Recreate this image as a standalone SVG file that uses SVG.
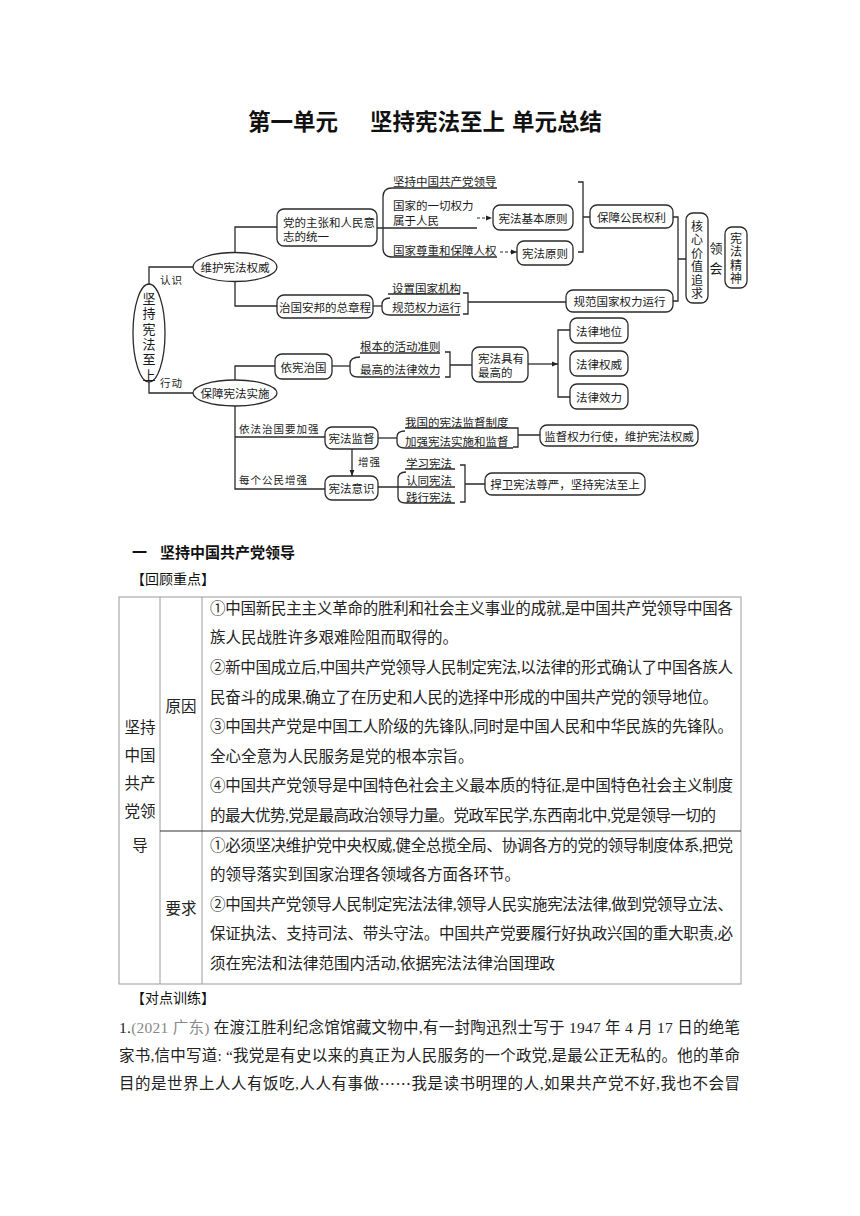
<svg xmlns="http://www.w3.org/2000/svg" width="860" height="1216" viewBox="0 0 860 1216">
<defs>
<style>
.ln{fill:none;stroke:#2a2a2a;stroke-width:1.3}
.ds{fill:none;stroke:#2a2a2a;stroke-width:1.2;stroke-dasharray:3 2}
.bx{fill:#fff;stroke:#2a2a2a;stroke-width:1.3}
.t{font-family:"Noto Sans CJK SC",sans-serif;font-size:11.5px;fill:#1a1a1a;dominant-baseline:central}
.c{text-anchor:middle}
.lb{font-size:10.5px;letter-spacing:1px}
.vt{font-family:"Noto Sans CJK SC",sans-serif;fill:#1a1a1a;writing-mode:vertical-rl;text-anchor:middle}
.b{font-family:"Liberation Serif","Noto Sans CJK SC",serif;font-size:15.5px;fill:#222;dominant-baseline:central}
.h{font-family:"Noto Sans CJK SC",sans-serif;fill:#111;dominant-baseline:central}
.tb{fill:none;stroke:#9a9a9a;stroke-width:1}
</style>
<marker id="ah" viewBox="0 0 10 10" refX="10" refY="5" markerWidth="6" markerHeight="6" orient="auto" markerUnits="userSpaceOnUse"><path d="M0 1L10 5L0 9z" fill="#222"/></marker>
</defs>
<rect width="860" height="1216" fill="#fff"/>

<text class="h" x="248" y="120" font-size="22.5" font-weight="bold">第一单元</text>
<text class="h" x="370" y="120" font-size="22.5" font-weight="bold">坚持宪法至上</text>
<text class="h" x="512" y="120" font-size="22.5" font-weight="bold">单元总结</text>

<g id="connectors">
<path class="ln" d="M149 284V267H193"/>
<path class="ln" d="M149 382V393H193"/>
<path class="ln" d="M235 252.5V227H277"/>
<path class="ln" d="M235 281.5V306H277"/>
<path class="ln" d="M235 380V366H275"/>
<path class="ln" d="M235 406V489H325"/>
<path class="ln" d="M235 437H325"/>
<path class="ln" d="M352 449V476" marker-end="url(#ah)"/>
<path class="ln" d="M377 228H477"/>
<path class="ln" d="M497 188H392Q383 188 383 197V248Q383 257 392 257H497"/>
<path class="ds" d="M477 218H492" marker-end="url(#ah)"/>
<path class="ds" d="M500 252H517" marker-end="url(#ah)"/>
<path class="ln" d="M578 182H583V252H578M583 217H590"/>
<path class="ln" d="M673 217H678V301H673M678 259H686"/>
<path class="ln" d="M373 306H382"/>
<path class="ln" d="M388 294H460"/>
<path class="ln" d="M390 298Q382 298 382 305V309Q382 315 390 315H460"/>
<path class="ln" d="M463 293H468V314H463M468 302H566"/>
<path class="ln" d="M332 366H350"/>
<path class="ln" d="M360 353H440"/>
<path class="ln" d="M360 357Q350 357 350 364V370Q350 377 358 377H440"/>
<path class="ln" d="M445 352H450V377H445M450 365H472"/>
<path class="ln" d="M528 364H558" marker-end="url(#ah)"/>
<path class="ln" d="M570 330H558V397H570"/>
<path class="ln" d="M378 438H397"/>
<path class="ln" d="M405 428H513"/>
<path class="ln" d="M405 431Q397 431 397 437V442Q397 448 405 448H513"/>
<path class="ln" d="M513 428H518V447H513M518 435H540"/>
<path class="ln" d="M378 487H455"/>
<path class="ln" d="M405 469H455"/>
<path class="ln" d="M406 472Q398 472 398 479V497Q398 503 406 503H455"/>
<path class="ln" d="M460 465H465V502H460M465 484H485"/>
</g>

<g id="edge-labels">
<text class="t lb" x="160" y="279">认识</text>
<text class="t lb" x="160" y="382">行动</text>
<text class="t lb" x="239" y="428">依法治国要加强</text>
<text class="t lb" x="239" y="479">每个公民增强</text>
<text class="t lb" x="358" y="461">增强</text>
</g>

<g id="n-root"><ellipse class="bx" cx="149" cy="333" rx="16" ry="49"/>
<text class="vt" x="149" y="337.5" font-size="13" letter-spacing="2.3">坚持宪法至上</text></g>

<g id="n-whqw"><ellipse class="bx" cx="235" cy="267" rx="42" ry="14.5"/><text class="t c" x="235" y="267">维护宪法权威</text></g>
<g id="n-bzss"><ellipse class="bx" cx="235" cy="393" rx="42" ry="13"/><text class="t c" x="235" y="393">保障宪法实施</text></g>

<g id="n-dzz"><rect class="bx" x="277" y="209" width="100" height="37" rx="7"/><text class="t" x="283" y="221.5">党的主张和人民意<tspan x="283" dy="14">志的统一</tspan></text></g>
<g id="n-zgab"><rect class="bx" x="277" y="295" width="96" height="23" rx="7"/><text class="t c" x="325" y="306.5">治国安邦的总章程</text></g>
<g id="n-yxzg"><rect class="bx" x="275" y="354" width="57" height="25" rx="7"/><text class="t c" x="303.5" y="366.5">依宪治国</text></g>
<g id="n-xfjd"><rect class="bx" x="325" y="427" width="53" height="22" rx="7"/><text class="t c" x="351.5" y="438">宪法监督</text></g>
<g id="n-xfys"><rect class="bx" x="325" y="476" width="53" height="24" rx="7"/><text class="t c" x="351.5" y="488">宪法意识</text></g>

<g id="n-items-top">
<text class="t" x="393" y="181">坚持中国共产党领导</text>
<text class="t" x="393" y="205">国家的一切权力<tspan x="393" dy="15">属于人民</tspan></text>
<text class="t" x="393" y="250">国家尊重和保障人权</text>
</g>
<g id="n-jbyz"><rect class="bx" x="493" y="205" width="80" height="25" rx="7"/><text class="t c" x="533" y="217.5">宪法基本原则</text></g>
<g id="n-xfyz"><rect class="bx" x="517" y="241" width="56" height="24" rx="7"/><text class="t c" x="545" y="253">宪法原则</text></g>
<g id="n-bzgm"><rect class="bx" x="590" y="205" width="83" height="23" rx="7"/><text class="t c" x="631.5" y="216.5">保障公民权利</text></g>
<g id="n-gfgj"><rect class="bx" x="566" y="290" width="107" height="22" rx="7"/><text class="t c" x="619.5" y="301">规范国家权力运行</text></g>
<g id="n-hxjz"><rect class="bx" x="686" y="213" width="22" height="90" rx="7"/>
<text class="vt" x="697" y="260.5" font-size="12" letter-spacing="1.5">核心价值追求</text></g>
<g id="l-linghui"><text class="vt" x="716" y="261.5" font-size="13" letter-spacing="7">领会</text></g>
<g id="n-xfjs"><rect class="bx" x="725" y="227" width="22" height="61" rx="7"/>
<text class="vt" x="736" y="259" font-size="12" letter-spacing="1.5">宪法精神</text></g>

<g id="n-items-mid">
<text class="t" x="392" y="288">设置国家机构</text>
<text class="t" x="392" y="307">规范权力运行</text>
<text class="t" x="360" y="346">根本的活动准则</text>
<text class="t" x="360" y="369">最高的法律效力</text>
</g>
<g id="n-zgd"><rect class="bx" x="472" y="347" width="56" height="35" rx="7"/><text class="t" x="478" y="357.5" font-size="11.2">宪法具有<tspan x="478" dy="14.5">最高的</tspan></text></g>
<g id="n-fldw"><rect class="bx" x="570" y="318" width="58" height="25" rx="7"/><text class="t c" x="599" y="330.5">法律地位</text></g>
<g id="n-flqw"><rect class="bx" x="570" y="351" width="58" height="25" rx="7"/><text class="t c" x="599" y="363.5">法律权威</text></g>
<g id="n-flxl"><rect class="bx" x="570" y="384" width="58" height="25" rx="7"/><text class="t c" x="599" y="396.5">法律效力</text></g>

<g id="n-items-low">
<text class="t" x="405" y="421.5">我国的宪法监督制度</text>
<text class="t" x="405" y="441">加强宪法实施和监督</text>
<text class="t" x="406" y="462.5">学习宪法</text>
<text class="t" x="406" y="480">认同宪法</text>
<text class="t" x="406" y="496.5">践行宪法</text>
</g>
<g id="n-jdql"><rect class="bx" x="540" y="425" width="158" height="21" rx="7"/><text class="t c" x="619" y="435.5">监督权力行使，维护宪法权威</text></g>
<g id="n-hwxf"><rect class="bx" x="485" y="473" width="160" height="22" rx="7"/><text class="t c" x="565" y="484">捍卫宪法尊严，坚持宪法至上</text></g>

<text class="h" x="132" y="551" font-size="15" font-weight="bold">一</text>
<text class="h" x="160" y="551" font-size="15" font-weight="bold">坚持中国共产党领导</text>
<text class="h" x="131" y="578" font-size="14">【回顾重点】</text>

<g id="table">
<rect class="tb" x="119" y="597" width="622" height="387"/>
<path class="tb" d="M160 597V984M202 597V984"/>
<path d="M160 831H741" stroke="#333" stroke-width="1.1"/>
<text class="b c" x="140" y="727">坚持</text>
<text class="b c" x="140" y="755">中国</text>
<text class="b c" x="140" y="783">共产</text>
<text class="b c" x="140" y="811">党领</text>
<text class="b c" x="140" y="845">导</text>
<text class="b c" x="181" y="706">原因</text>
<text class="b c" x="181" y="908">要求</text>
<text class="b" x="210" y="608" textLength="523" lengthAdjust="spacing">①中国新民主主义革命的胜利和社会主义事业的成就,是中国共产党领导中国各</text>
<text class="b" x="210" y="637.5">族人民战胜许多艰难险阻而取得的。</text>
<text class="b" x="210" y="667" textLength="523" lengthAdjust="spacing">②新中国成立后,中国共产党领导人民制定宪法,以法律的形式确认了中国各族人</text>
<text class="b" x="210" y="697" textLength="508" lengthAdjust="spacing">民奋斗的成果,确立了在历史和人民的选择中形成的中国共产党的领导地位。</text>
<text class="b" x="210" y="726" textLength="523" lengthAdjust="spacing">③中国共产党是中国工人阶级的先锋队,同时是中国人民和中华民族的先锋队。</text>
<text class="b" x="210" y="756">全心全意为人民服务是党的根本宗旨。</text>
<text class="b" x="210" y="785" textLength="523" lengthAdjust="spacing">④中国共产党领导是中国特色社会主义最本质的特征,是中国特色社会主义制度</text>
<text class="b" x="210" y="815" textLength="506" lengthAdjust="spacing">的最大优势,党是最高政治领导力量。党政军民学,东西南北中,党是领导一切的</text>
<text class="b" x="210" y="845" textLength="523" lengthAdjust="spacing">①必须坚决维护党中央权威,健全总揽全局、协调各方的党的领导制度体系,把党</text>
<text class="b" x="210" y="874">的领导落实到国家治理各领域各方面各环节。</text>
<text class="b" x="210" y="904" textLength="523" lengthAdjust="spacing">②中国共产党领导人民制定宪法法律,领导人民实施宪法法律,做到党领导立法、</text>
<text class="b" x="210" y="933" textLength="523" lengthAdjust="spacing">保证执法、支持司法、带头守法。中国共产党要履行好执政兴国的重大职责,必</text>
<text class="b" x="210" y="963">须在宪法和法律范围内活动,依据宪法法律治国理政</text>
</g>

<text class="h" x="131" y="997" font-size="14">【对点训练】</text>
<text class="b" x="119" y="1027" textLength="621" lengthAdjust="spacing">1.<tspan fill="#888">(2021 广东)</tspan> 在渡江胜利纪念馆馆藏文物中,有一封陶迅烈士写于 1947 年 4 月 17 日的绝笔</text>
<text class="b" x="119" y="1055" textLength="621" lengthAdjust="spacing">家书,信中写道: “我党是有史以来的真正为人民服务的一个政党,是最公正无私的。他的革命</text>
<text class="b" x="119" y="1083" textLength="621" lengthAdjust="spacing">目的是世界上人人有饭吃,人人有事做<tspan font-family="Noto Sans CJK SC">……</tspan>我是读书明理的人,如果共产党不好,我也不会冒</text>
</svg>
